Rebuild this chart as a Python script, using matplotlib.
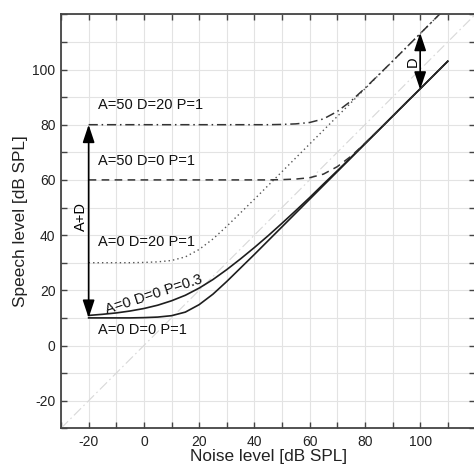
import matplotlib
matplotlib.use('Agg')
import matplotlib.pyplot as plt
from matplotlib.ticker import MultipleLocator

plt.rcParams['font.family'] = ['Liberation Sans', 'DejaVu Sans']
plt.rcParams['axes.unicode_minus'] = False

noise = [-20, -15, -10, -5, 0, 5, 10, 15, 20, 25, 30, 35, 40, 45,
         50, 55, 60, 65, 70, 75, 80, 85, 90, 95, 100, 105, 110]

# speech level (dB SPL) for each parameter set
srt_a0_d0_p1 = [10.0, 10.0, 10.0, 10.0, 10.1, 10.3, 10.8, 12.1, 14.8, 18.6, 23.2, 28.1, 33.0, 38.0,
                43.0, 48.0, 53.0, 58.0, 63.0, 68.0, 73.0, 78.0, 83.0, 88.0, 93.0, 98.0, 103.0]
srt_a0_d0_p03 = [10.9, 11.3, 11.8, 12.5, 13.4, 14.6, 16.2, 18.2, 20.8, 23.9, 27.5, 31.4, 35.5, 39.8,
                 44.3, 48.9, 53.6, 58.5, 63.3, 68.2, 73.2, 78.1, 83.1, 88.1, 93.0, 98.0, 103.0]
srt_a0_d20_p1 = [30.0, 30.0, 30.0, 30.0, 30.1, 30.3, 30.8, 32.1, 34.8, 38.6, 43.2, 48.1, 53.0, 58.0,
                 63.0, 68.0, 73.0, 78.0, 83.0, 88.0, 93.0, 98.0, 103.0, 108.0, 113.0, 118.0, 123.0]
srt_a50_d0_p1 = [60.0, 60.0, 60.0, 60.0, 60.0, 60.0, 60.0, 60.0, 60.0, 60.0, 60.0, 60.0, 60.0, 60.0,
                 60.1, 60.3, 60.8, 62.1, 64.8, 68.6, 73.2, 78.1, 83.0, 88.0, 93.0, 98.0, 103.0]
srt_a50_d20_p1 = [80.0, 80.0, 80.0, 80.0, 80.0, 80.0, 80.0, 80.0, 80.0, 80.0, 80.0, 80.0, 80.0, 80.0,
                  80.1, 80.3, 80.8, 82.1, 84.8, 88.6, 93.2, 98.1, 103.0, 108.0, 113.0, 118.0, 123.0]

diag = [-30, 120]

labels = ['A=50 D=20 P=1', 'A=50 D=0 P=1', 'A=0 D=20 P=1', 'A=0 D=0 P=1']
label_x = [-16.7, -16.7, -16.7, -16.7]
label_y = [87.0, 67.0, 37.6, 5.6]

arrow_ad = (-20, 80, 10)   # x, from, to
arrow_d = (100, 113.3, 92.7)

fig = plt.figure(figsize=(4.74, 4.66), dpi=100)
# right edge of the axes sits just past the image border (cropped like the original)
ax = fig.add_axes([0.1287, 0.0809, 0.8743, 0.8884])

ax.plot(diag, diag, color='#d8d8d8', lw=0.8, ls=(0, (9, 3, 1.5, 3)), zorder=1)

ax.plot(noise, srt_a0_d0_p1, color='#1e1e1e', lw=1.2)
ax.plot(noise, srt_a0_d0_p03, color='#1e1e1e', lw=1.2)
ax.plot(noise, srt_a0_d20_p1, color='#555555', lw=1.0, ls=(0, (1, 2.2)))
ax.plot(noise, srt_a50_d0_p1, color='#333333', lw=1.1, ls=(0, (5, 3.5)))
ax.plot(noise, srt_a50_d20_p1, color='#333333', lw=1.1, ls=(0, (6, 2.5, 1, 2.5)))

for t, x, y in zip(labels, label_x, label_y):
    ax.text(x, y, t, fontsize=10.5, ha='left', va='center', color='#111111')
ax.text(3.5, 18.6, 'A=0 D=0 P=0.3', fontsize=10.5, ha='center', va='center',
        rotation=18, rotation_mode='anchor', color='#111111')

aprops = dict(arrowstyle='<|-|>,head_length=0.9,head_width=0.3', color='black',
              lw=1.2, shrinkA=0, shrinkB=0, mutation_scale=12)
ax.annotate('', xy=(arrow_ad[0], arrow_ad[2]), xytext=(arrow_ad[0], arrow_ad[1]), arrowprops=aprops)
ax.annotate('', xy=(arrow_d[0], arrow_d[2]), xytext=(arrow_d[0], arrow_d[1]), arrowprops=aprops)
ax.text(-22.6, 46.7, 'A+D', fontsize=10.5, rotation=90, ha='center', va='center')
ax.text(97.2, 103, 'D', fontsize=10.5, rotation=90, ha='center', va='center')

ax.set_xlim(-30, 120)
ax.set_ylim(-30, 120)
ax.xaxis.set_minor_locator(MultipleLocator(10))
ax.yaxis.set_minor_locator(MultipleLocator(10))
ax.set_xticks([-20, 0, 20, 40, 60, 80, 100])
ax.set_yticks([-20, 0, 20, 40, 60, 80, 100])
ax.grid(True, which='both', color='#e3e3e3', lw=0.8)
ax.set_axisbelow(True)
ax.tick_params(which='both', direction='in', top=True, right=True, length=4.3,
               width=1.0, color='#444444', labelsize=10, labelcolor='#222222', pad=5)
ax.tick_params(axis='y', pad=4)
for s in ax.spines.values():
    s.set_color('#444444')
    s.set_linewidth(1.3)

ax.set_xlabel('Noise level [dB SPL]', fontsize=12.4, labelpad=0, color='#222222')
ax.set_ylabel('Speech level [dB SPL]', fontsize=12.4, labelpad=3, color='#222222')

fig.savefig('out.png', dpi=100)
